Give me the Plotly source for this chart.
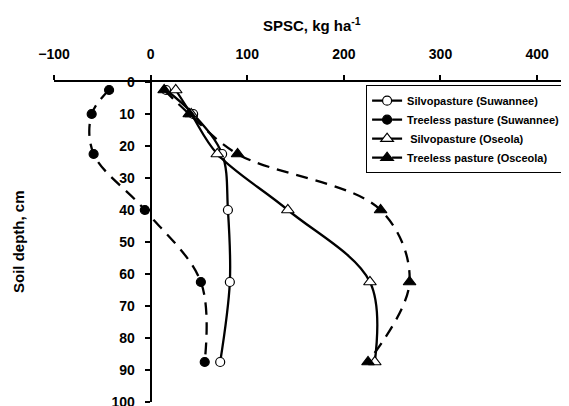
import plotly.graph_objects as go

depth = [2.5, 10, 22.5, 40, 62.5, 87.5]
silvo_suw = [16, 44, 74, 80, 82, 72]
treeless_suw = [-43, -61, -59, -6, 52, 56]
silvo_ose = [26, 42, 69, 142, 227, 232]
treeless_osc = [14, 40, 90, 238, 268, 225]

names = ["Silvopasture (Suwannee)", "Treeless pasture (Suwannee)",
         " Silvopasture (Oseola)", "Treeless pasture (Osceola)"]

XMIN, XMAX = -100, 433
FONT = "Liberation Sans, Arial, sans-serif"

fig = go.Figure()
specs = [
    (silvo_suw, names[0], "solid", "circle", "white", 9),
    (treeless_suw, names[1], "12px,8px", "circle", "black", 9),
    (silvo_ose, names[2], "solid", "triangle-up", "white", 11),
    (treeless_osc, names[3], "12px,8px", "triangle-up", "black", 11),
]
for xs, nm, dash, sym, fill, size in specs:
    fig.add_trace(go.Scatter(
        x=xs, y=depth, name=nm, mode="lines+markers",
        line=dict(color="black", width=2.3, dash=dash, shape="spline", smoothing=1),
        marker=dict(symbol=sym, size=size, color=fill,
                    line=dict(color="black", width=1.2)),
    ))

# the page body adds an 8px offset, so the figure is sized to fit the window
fig.update_layout(
    width=561, height=398,
    margin=dict(l=46, r=0, t=74, b=4, autoexpand=False),
    paper_bgcolor="white", plot_bgcolor="white",
    font=dict(family=FONT, color="black"),
    showlegend=True,
    legend=dict(x=0.606, y=0.99, xanchor="left", yanchor="top",
                bordercolor="black", borderwidth=1, bgcolor="white",
                font=dict(size=11, weight="bold", family=FONT),
                itemwidth=30, tracegroupgap=2),
    xaxis=dict(side="top", range=[XMIN, XMAX], tickvals=[-100, 0, 100, 200, 300, 400],
               automargin=False,
               showgrid=False, zeroline=False, showline=True, linecolor="black", linewidth=2,
               ticks="outside", ticklen=5, tickwidth=2, tickcolor="black",
               ticklabelstandoff=10,
               tickfont=dict(size=14, weight="bold", family=FONT)),
    yaxis=dict(range=[100, 0], tickvals=list(range(0, 101, 10)),
               automargin=False, ticklabeloverflow="allow",
               anchor="free", position=(0 - XMIN) / (XMAX - XMIN),
               showgrid=False, zeroline=False, showline=True, linecolor="black", linewidth=2,
               ticks="outside", ticklen=5, tickwidth=2, tickcolor="black",
               ticklabelstandoff=7,
               tickfont=dict(size=14, weight="bold", family=FONT)),
    annotations=[
        dict(text="SPSC, kg ha<sup>-1</sup>", xref="paper", yref="paper",
             x=0.5, y=1 + (82 - 24) / 320, xanchor="center", yanchor="middle",
             showarrow=False, font=dict(size=15, weight="bold", family=FONT)),
        dict(text="Soil depth, cm", xref="paper", yref="paper",
             x=(18 - 54) / 515, y=0.5, xanchor="center", yanchor="middle",
             textangle=-90, showarrow=False, font=dict(size=15, weight="bold", family=FONT)),
    ],
)

fig.write_html("out.html")
